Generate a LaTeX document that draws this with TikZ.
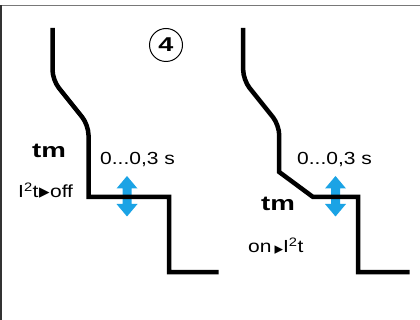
\documentclass[tikz,border=0pt]{standalone}
\usepackage{fontspec}
\setmainfont{Liberation Sans}
\newfontfamily\regw[FakeStretch=1.2]{Liberation Sans}
\newfontfamily\boldw[FakeStretch=1.35]{Liberation Sans}
\newfontfamily\dvtri{DejaVu Sans}
\definecolor{arrowblue}{RGB}{27,163,229}
\definecolor{framegray}{RGB}{120,120,120}
\tikzset{
  curve/.style={line width=4.5pt, black, miter limit=10},
  txt/.style={inner sep=0pt, anchor=base west, font=\regw\fontsize{17.5}{20}\selectfont},
  smalltxt/.style={inner sep=0pt, anchor=base west, font=\regw\fontsize{17.5}{20}\selectfont},
  boldtxt/.style={inner sep=0pt, anchor=base west, font=\boldw\bfseries\fontsize{20.5}{22}\selectfont},
  darrow/.style={fill=arrowblue, draw=none},
}
\newcommand{\tri}[1]{{\dvtri\fontsize{#1}{#1}\selectfont ▸}}
\begin{document}
\begin{tikzpicture}[x=1pt,y=-1pt]
\useasboundingbox (0,0) rectangle (420,320);
% frame
\draw[framegray, line width=1.5pt] (0,5.5) -- (420,5.5);
\draw[black!80, line width=1.5pt] (0.75,5.5) -- (0.75,320);
% blue double arrows
\foreach \cx in {127,335.5}{
  \fill[darrow] (\cx,176) -- (\cx+10.5,188.5) -- (\cx+4.5,188.5) -- (\cx+4.5,204) -- (\cx+10.5,204)
    -- (\cx,216.5) -- (\cx-10.5,204) -- (\cx-4.5,204) -- (\cx-4.5,188.5) -- (\cx-10.5,188.5) -- cycle;
}
% left curve
\draw[curve] (52.5,28) [rounded corners=10pt] -- (52.5,80) -- (88.5,125) [sharp corners] -- (88.5,197) -- (169,197) -- (169,272) -- (218.5,272);
% right curve
\draw[curve] (243.2,28) [rounded corners=10pt] -- (243.2,80) -- (279.2,125) [sharp corners] -- (279.2,172) -- (313,197) -- (358,197) -- (358,272) -- (409.5,272);
% circled 4
\node[draw, circle, line width=1pt, minimum size=33pt, inner sep=0pt,
      font=\boldw\bfseries\fontsize{20}{22}\selectfont] (num) at (166,45) {4};
% left labels
\node[boldtxt] (tmL) at (32,157.5) {tm};
\node[txt] (timeL) at (100,165) {0...0,3 s};
\node[smalltxt] (i2tL) at (18,198) {I\textsuperscript{2}t\hspace{0.5pt}\raisebox{-0.5pt}{\tri{21}}\hspace{0.5pt}off};
% right labels
\node[txt] (timeR) at (297,164.5) {0...0,3 s};
\node[boldtxt] (tmR) at (261,211) {tm};
\node[smalltxt] (i2tR) at (248,253) {on\hspace{3pt}\raisebox{-1.5pt}{\tri{17}}I\textsuperscript{2}t};
\end{tikzpicture}
\end{document}
